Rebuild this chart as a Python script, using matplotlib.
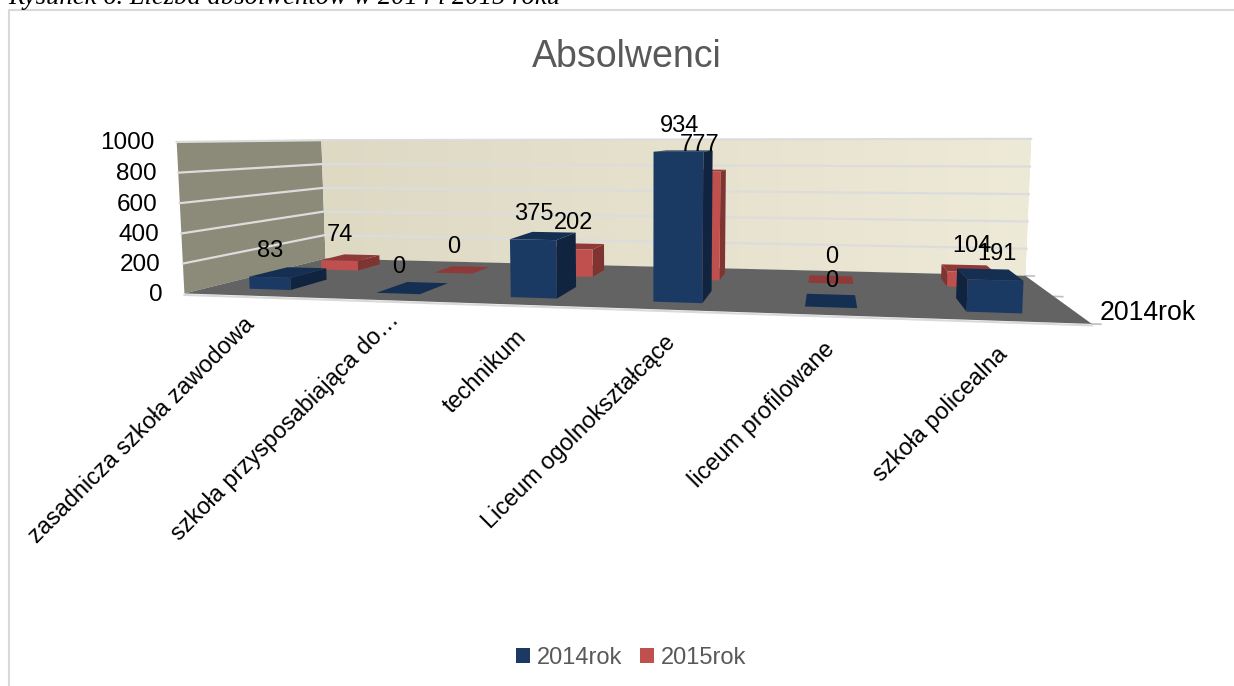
import numpy as np
import matplotlib
matplotlib.use("Agg")
import matplotlib.pyplot as plt
from matplotlib.patches import Polygon, Patch

plt.rcParams['font.family'] = ['Liberation Sans', 'DejaVu Sans']

categories = ["zasadnicza szkoła zawodowa", "szkoła przysposabiająca do…", "technikum",
              "Liceum ogolnokształcące", "liceum profilowane", "szkoła policealna"]
series_names = ["2014rok", "2015rok"]
values_2014 = [83, 0, 375, 934, 0, 191]
values_2015 = [74, 0, 202, 777, 0, 104]
y_ticks = [0, 200, 400, 600, 800, 1000]

# camera calibration: (category pos, depth, value) -> pixel, fitted as a projective map
calib = [((0, 0, 0), (185, 293)), ((6, 0, 0), (1090, 324)), ((0, 1, 0), (325, 259)),
         ((6, 1, 0), (1024, 275)), ((0, 0, 1000), (176, 142)), ((0, 1, 1000), (322, 140)),
         ((6, 1, 1000), (1031, 139)), ((6, .5, 0), (1057, 297))]
A, b = [], []
for (u, v, z), (px, py) in calib:
    z = z / 1000
    A.append([u, v, z, 1, 0, 0, 0, 0, -px*u, -px*v, -px*z]); b.append(px)
    A.append([0, 0, 0, 0, u, v, z, 1, -py*u, -py*v, -py*z]); b.append(py)
H = np.append(np.linalg.lstsq(np.array(A, float), np.array(b, float), rcond=None)[0], 1).reshape(3, 4)

def P(u, v, z):
    w = H @ np.array([u, v, z/1000, 1.0])
    return np.array([w[0]/w[2], w[1]/w[2]])

fig = plt.figure(figsize=(12.34, 6.86), dpi=100)
ax = fig.add_axes([0, 0, 1, 1])
ax.set_axis_off()

def poly(pts, fc, z=1, ec='none', lw=0):
    p = Polygon(pts, closed=True, fc=fc, ec=ec, lw=lw, zorder=z)
    ax.add_patch(p)
    return p

# chart frame
ax.plot([9, 9, 1234], [686, 10, 10], color='#d9d9d9', lw=1.5, zorder=0.5)
ax.text(8, 4, "Rysunek 6. Liczba absolwentów w 2014 i 2015 roku", family='Liberation Serif',
        style='italic', fontsize=19.2, color='black', va='baseline', ha='left', zorder=5)
ax.text(627, 57, "Absolwenci", fontsize=27, color='#595959', ha='center', va='center')

# walls
left = [P(0, 0, 0), P(0, 1, 0), P(0, 1, 1000), P(0, 0, 1000)]
poly(left, '#8c8a78', 1)
back = [P(0, 1, 0), P(6, 1, 0), P(6, 1, 1000), P(0, 1, 1000)]
clip = poly(back, '#e4e0cb', 1)
grad = np.linspace(0, 1, 256).reshape(1, -1, 1)
c0, c1 = np.array([0xdd, 0xd9, 0xc3])/255, np.array([0xee, 0xea, 0xd8])/255
im = ax.imshow(c0 + (c1 - c0)*grad, extent=(322, 1032, 280, 135), aspect='auto', zorder=1.1)
im.set_clip_path(clip)
poly([P(0, 0, 0), P(6, 0, 0), P(6, 1, 0), P(0, 1, 0)], '#636363', 2)
# lighter front rim of the floor
a, c = P(0, 0, 0), P(6, 0, 0)
ax.plot([a[0], c[0]], [a[1]+1.5, c[1]+1.5], color='#d9d9d9', lw=1.5, zorder=1.9)

for t in y_ticks:
    pts = [P(0, 0, t), P(0, 1, t), P(6, 1, t)]
    if t > 0:
        ax.plot([p[0] for p in pts], [p[1] for p in pts], color='#dcdcdc', lw=1.6, zorder=1.5)
    lab = P(0, 0, t)
    ax.text(lab[0]-22, lab[1]+1.5, str(t), fontsize=17.5, ha='right', va='center', color='black', zorder=6)

for v in (0, .5, 1):
    q = P(6, v, 0)
    ax.plot([q[0], q[0]+9], [q[1], q[1]+.3], color='#bfbfbf', lw=1.2, zorder=1.9)
q = P(6, 0, 0)
ax.text(q[0]+8, q[1]-11, series_names[0], fontsize=19.2, ha='left', va='center', zorder=6)

BW = 0.165
FILLS = [('#1a3a63', '#10243f', '#142f52'), ('#c0504d', '#7f3432', '#8f3a38')]
DEPTH = [(0.14, 0.40), (0.66, 0.86)]

def bar(i, s, val, zo):
    uc = i + .5
    u0, u1 = uc-BW, uc+BW
    v0, v1 = DEPTH[s]
    front, side, top = FILLS[s]
    if P(u0, v1, 0)[0] < P(u0, v0, 0)[0]:
        poly([P(u0, v0, 0), P(u0, v1, 0), P(u0, v1, val), P(u0, v0, val)], side, zo)
    if P(u1, v1, 0)[0] > P(u1, v0, 0)[0]:
        poly([P(u1, v0, 0), P(u1, v1, 0), P(u1, v1, val), P(u1, v0, val)], side, zo)
    poly([P(u0, v0, val), P(u1, v0, val), P(u1, v1, val), P(u0, v1, val)], top, zo)
    if val > 0:
        poly([P(u0, v0, 0), P(u1, v0, 0), P(u1, v0, val), P(u0, v0, val)], front, zo)
    cp = P(uc, v0, val)
    ax.text(cp[0]+1, cp[1]-26, str(val), fontsize=17, ha='center', va='center', zorder=8)

for s, vals in ((1, values_2015), (0, values_2014)):
    for i, val in enumerate(vals):
        bar(i, s, val, 3 + (1 - s))

label_nudge = [(3, -5), (15, -14), (1, -1), (0, -1), (0, 0), (2, 0)]
for i, name in enumerate(categories):
    q = P(i + .5, 0, 0)
    ax.text(q[0]-8+label_nudge[i][0], q[1]+22+label_nudge[i][1], name, fontsize=16.9, rotation=45,
            rotation_mode='anchor', ha='right', va='top', color='black', zorder=6)

leg = ax.legend(handles=[Patch(fc=FILLS[0][0], label=series_names[0]), Patch(fc=FILLS[1][0], label=series_names[1])],
                loc='center', bbox_to_anchor=(631/1234, 1-658/686), ncol=2, frameon=False, fontsize=17,
                labelcolor='#595959', handlelength=.6, handleheight=.6, handletextpad=.3, columnspacing=.75)

ax.set_xlim(0, 1234)
ax.set_ylim(686, 0)
fig.savefig("out.png", dpi=100)
